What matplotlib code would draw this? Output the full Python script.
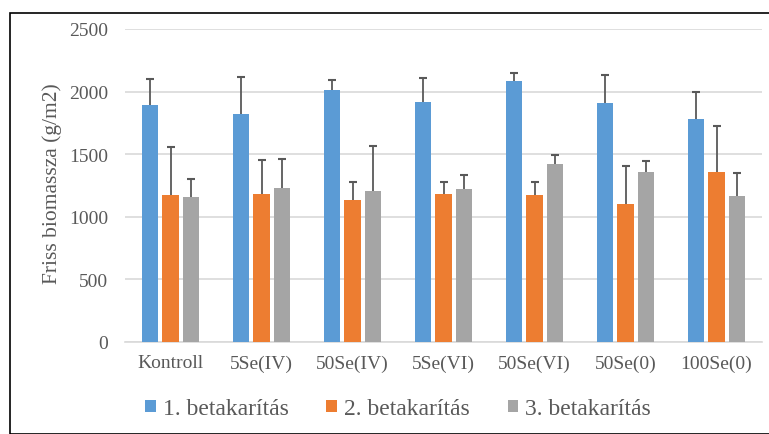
import matplotlib
matplotlib.use('Agg')
import matplotlib.pyplot as plt
import numpy as np
from matplotlib.patches import Rectangle

# ========================
# Data
# ========================
categories = ['Kontroll', '5Se(IV)', '50Se(IV)', '5Se(VI)', '50Se(VI)', '50Se(0)', '100Se(0)']
series_names = ['1. betakarítás', '2. betakarítás', '3. betakarítás']

harvest1 = [1893, 1818, 2010, 1914, 2083, 1906, 1778]
harvest2 = [1174, 1179, 1136, 1184, 1174, 1104, 1361]
harvest3 = [1160, 1232, 1206, 1225, 1425, 1355, 1166]

err1 = [206, 302, 81, 198, 69, 227, 219]
err2 = [387, 276, 145, 97, 101, 300, 363]
err3 = [139, 228, 361, 112, 67, 92, 187]

y_ticks = [0, 500, 1000, 1500, 2000, 2500]

colors = ['#5B9BD5', '#ED7D31', '#A5A5A5']
text_color = '#595959'

# ========================
# Plot
# ========================
plt.rcParams['font.family'] = 'serif'
plt.rcParams['font.serif'] = ['Liberation Serif', 'DejaVu Serif']

fig = plt.figure(figsize=(7.69, 4.35), dpi=100)
ax = fig.add_axes([125 / 769, 1 - 343 / 435, 637 / 769, 313 / 435])

x = np.arange(len(categories))
width = 0.176
offsets = [-0.22, 0, 0.22]
values = [harvest1, harvest2, harvest3]
errors = [err1, err2, err3]

for vals, errs, off, col, name in zip(values, errors, offsets, colors, series_names):
    ax.bar(x + off, vals, width, color=col, label=name, zorder=3)
    _, caps, _ = ax.errorbar(x + off, vals, yerr=[np.zeros(len(errs)), errs], fmt='none',
                             ecolor=text_color, elinewidth=1.3, capsize=2.6,
                             capthick=1.5, zorder=4)
    # only the upper cap, like the Excel "plus" error bars
    caps[0].set_visible(False)

ax.set_xlim(-0.5, len(categories) - 0.5)
ax.set_ylim(0, 2500)
ax.set_yticks(y_ticks)
ax.set_xticks(x)
ax.set_xticklabels(categories)
ax.tick_params(axis='both', length=0, labelsize=14, colors=text_color)
ax.tick_params(axis='y', pad=12)
ax.tick_params(axis='x', pad=9)
ax.grid(axis='y', color='#D9D9D9', linewidth=1.2, zorder=0)
for s in ['top', 'right', 'left']:
    ax.spines[s].set_visible(False)
ax.spines['bottom'].set_color('#D9D9D9')
ax.spines['bottom'].set_linewidth(1.2)

fig.text(52 / 769, 1 - 184 / 435, 'Friss biomassza (g/m2)', rotation=90,
         ha='center', va='center', fontsize=15.5, color=text_color)

leg = fig.legend(loc='center', bbox_to_anchor=(398 / 769, 1 - 410 / 435), ncol=3,
                 frameon=False, fontsize=17, handlelength=0.45, handleheight=0.45,
                 handletextpad=0.3, columnspacing=1.6)
for t in leg.get_texts():
    t.set_color(text_color)
    t.set_fontfamily('Liberation Serif')

fig.patches.append(Rectangle((10 / 769, 0), 1, 1 - 14 / 435, transform=fig.transFigure,
                             fill=False, edgecolor='black', linewidth=1.2))

plt.savefig('out.png', dpi=100)
plt.close()
